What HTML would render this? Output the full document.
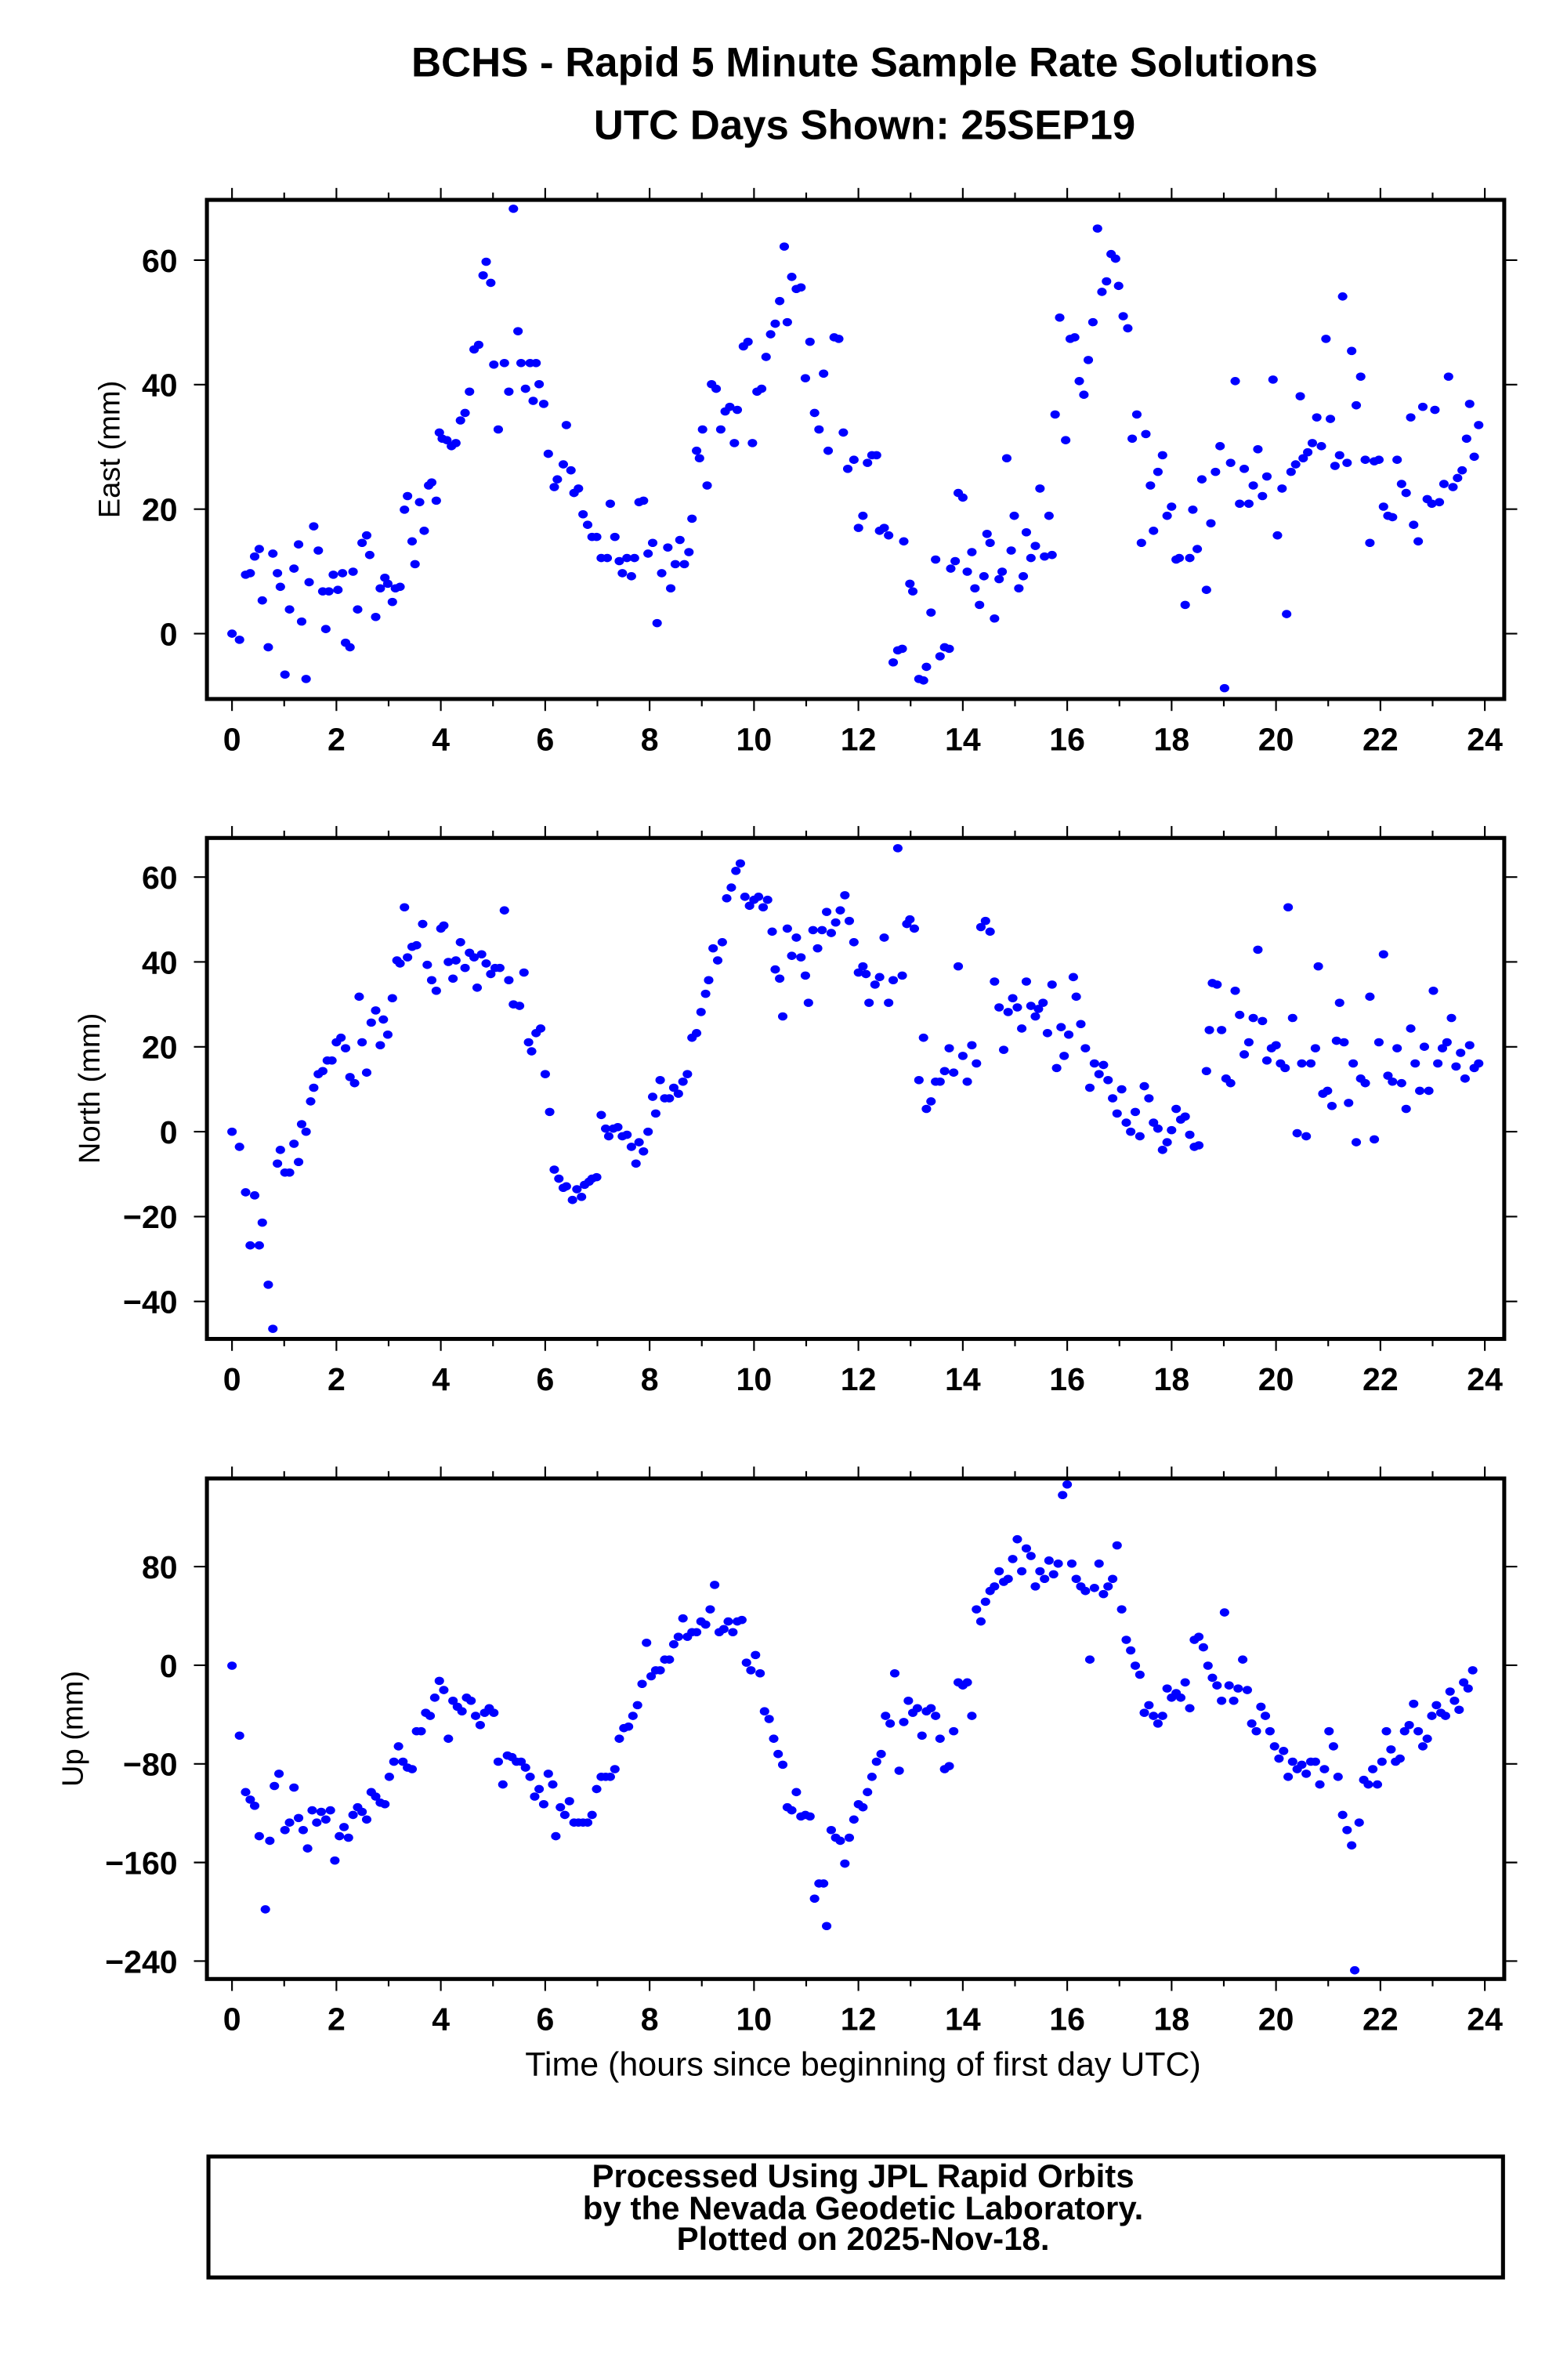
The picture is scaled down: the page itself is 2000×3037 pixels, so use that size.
<!DOCTYPE html>
<html><head><meta charset="utf-8"><style>
html,body{margin:0;padding:0;background:#fff;}
svg{display:block;}
text{font-family:"Liberation Sans",Arial,sans-serif;fill:#000;}
.b{font-weight:bold;}
</style></head><body>
<svg id="s" width="2000" height="3037" viewBox="0 0 1024 1555" xmlns="http://www.w3.org/2000/svg">
<rect width="1024" height="1555" fill="#fff"/>
<text class="b" x="565" y="50" font-size="27" text-anchor="middle">BCHS - Rapid 5 Minute Sample Rate Solutions</text>
<text class="b" x="565" y="91" font-size="27" text-anchor="middle">UTC Days Shown:  25SEP19</text>
<g id="g"></g>
<text x="564" y="1356" font-size="22" text-anchor="middle">Time (hours since beginning of first day UTC)</text>
<rect x="136.2" y="1409" width="846" height="79" fill="none" stroke="#000" stroke-width="2.6"/>
<text class="b" x="564" y="1429" font-size="21.5" text-anchor="middle">Processed Using JPL Rapid Orbits</text>
<text class="b" x="564" y="1450" font-size="21.5" text-anchor="middle">by the Nevada Geodetic Laboratory.</text>
<text class="b" x="564" y="1470" font-size="21.5" text-anchor="middle">Plotted on 2025-Nov-18.</text>
</svg>
<script>
var E=[152,418,157,422,161,379,164,378,167,367,170,362,172,396,176,427,179,365,182,378,184,387,187,445,190,402,193,375,196,359,198,410,201,448,203,384,206,347,209,363,212,390,214,415,216,390,219,379,222,389,225,378,227,424,230,427,232,377,235,402,238,358,241,353,243,366,247,407,250,388,253,381,255,385,258,397,260,388,263,387,266,336,268,327,271,357,273,372,276,331,279,350,282,320,284,318,287,330,289,285,291,289,294,290,297,294,300,292,303,277,306,272,309,258,312,230,315,227,318,181,320,172,323,186,325,240,328,283,332,239,335,258,338,137,341,218,343,239,346,256,349,239,351,264,353,239,355,253,358,266,361,299,365,321,367,316,371,306,373,280,376,310,378,325,381,322,384,339,387,346,390,354,393,354,396,368,400,368,402,332,405,354,408,370,410,378,413,368,416,380,418,368,421,331,424,330,427,365,430,358,433,411,436,378,440,361,442,388,445,372,448,356,451,372,454,364,456,342,459,297,461,302,463,283,466,320,469,253,472,256,475,283,478,271,481,268,484,292,486,270,490,228,493,225,496,292,499,258,502,256,505,235,508,220,511,213,514,198,517,162,519,212,522,182,525,190,528,189,531,249,534,225,537,272,540,283,543,246,546,297,550,222,553,223,556,285,559,309,563,303,566,348,569,340,572,305,575,300,578,300,580,350,583,348,586,353,589,437,592,429,595,428,596,357,600,385,602,390,606,448,609,449,611,440,614,404,617,369,620,433,623,427,626,428,627,375,630,370,632,325,635,328,638,377,641,364,643,388,646,399,649,380,651,352,653,358,656,408,659,382,661,377,664,302,667,363,669,340,672,388,675,380,677,351,680,368,683,360,686,322,689,367,692,340,694,366,696,273,699,209,703,290,706,223,709,222,712,251,715,260,718,237,721,212,724,150,727,192,730,185,733,167,736,170,738,188,741,208,744,216,747,289,750,273,753,358,756,286,759,320,761,350,764,311,767,300,770,340,773,334,776,369,778,368,782,399,785,368,787,336,790,362,793,316,796,389,799,345,802,311,805,294,808,454,812,305,815,251,818,332,821,309,824,332,827,320,830,296,833,327,836,314,840,250,843,353,846,322,849,405,852,311,855,306,858,261,860,302,863,298,866,292,869,275,872,294,875,223,878,276,881,307,884,300,886,195,889,305,892,231,895,267,898,248,901,303,904,358,907,304,910,303,913,334,916,340,919,341,922,303,925,319,928,325,931,275,933,346,936,357,939,268,942,329,945,332,947,270,950,331,953,319,956,248,959,321,962,315,965,310,968,289,970,266,973,301,976,280];
var N=[152,745,157,755,161,785,164,820,167,787,170,820,172,805,176,846,179,875,182,766,184,757,187,772,190,772,193,753,196,765,198,740,201,745,204,725,206,716,209,707,212,705,215,698,218,698,221,686,224,683,227,690,230,709,233,713,236,656,238,686,241,706,244,673,247,665,250,688,252,671,255,681,258,657,261,632,263,634,266,597,268,630,271,623,274,622,278,608,281,635,284,645,287,652,290,611,292,609,295,633,298,644,300,632,303,620,306,637,309,627,312,630,314,650,317,628,320,634,323,641,326,637,329,637,332,599,335,645,338,661,342,662,345,640,348,686,350,692,353,680,356,677,359,707,362,732,365,770,368,776,371,782,373,781,377,790,380,783,383,788,385,780,388,778,390,776,393,775,396,734,399,743,401,748,404,743,407,742,410,748,413,747,416,755,419,766,421,752,424,758,427,745,430,722,432,733,435,711,438,723,441,723,444,716,447,720,450,712,453,707,456,683,459,680,462,666,465,654,467,645,470,624,473,632,476,620,479,591,482,584,485,573,488,568,491,590,494,596,497,592,500,590,503,597,506,592,509,613,511,638,514,644,516,669,519,611,522,629,525,617,528,630,531,642,533,660,536,612,539,624,542,612,545,600,548,614,551,607,554,599,557,589,560,606,563,620,566,640,569,636,571,641,573,660,577,648,580,643,583,617,586,660,589,645,592,558,595,642,598,608,600,605,603,611,606,711,609,683,611,730,614,725,617,712,620,712,623,705,626,690,629,706,632,636,635,695,638,712,641,688,644,700,647,610,650,606,653,613,656,646,659,663,662,691,665,666,668,657,671,663,674,677,677,646,680,662,683,669,685,664,688,660,691,680,694,648,697,703,700,676,702,695,705,681,708,643,710,656,713,674,716,690,719,716,722,700,725,707,728,701,731,711,734,723,737,733,740,717,743,739,746,745,749,732,752,748,755,715,758,723,761,739,764,743,767,757,770,752,773,744,776,730,779,737,782,735,785,747,788,755,791,754,796,705,798,678,800,647,803,648,806,678,809,710,812,713,815,652,818,668,821,694,824,686,827,670,830,625,833,672,836,698,839,690,842,688,845,700,848,703,850,597,853,670,856,746,859,700,862,748,865,700,868,690,870,636,873,720,876,718,879,728,882,685,884,660,887,686,890,726,893,700,895,752,898,710,901,713,904,656,907,750,910,686,913,628,916,708,919,712,922,690,925,713,928,730,931,677,934,700,937,718,940,689,943,718,946,652,949,700,952,690,955,686,958,670,961,702,964,693,967,710,970,688,973,703,976,700];
var U=[152,1097,157,1143,161,1180,164,1185,167,1189,170,1209,174,1257,177,1212,180,1176,183,1168,187,1205,190,1200,193,1177,196,1197,199,1205,202,1217,205,1192,208,1200,211,1193,214,1198,217,1192,220,1225,223,1209,226,1203,229,1210,232,1195,235,1190,238,1193,241,1198,244,1180,247,1183,250,1187,253,1188,256,1170,259,1160,262,1150,265,1160,268,1164,271,1165,274,1140,277,1140,280,1128,283,1130,286,1118,289,1107,292,1113,295,1145,298,1120,301,1124,304,1127,307,1118,310,1120,313,1130,316,1136,319,1128,322,1125,325,1128,328,1160,331,1175,334,1156,337,1157,340,1160,343,1160,346,1164,349,1170,352,1183,355,1178,358,1188,361,1168,364,1175,366,1209,369,1190,372,1195,375,1186,378,1200,381,1200,384,1200,387,1200,390,1195,393,1178,396,1170,399,1170,402,1170,405,1165,408,1145,411,1138,414,1137,417,1130,420,1123,423,1109,426,1082,429,1104,432,1100,435,1100,438,1093,441,1093,444,1083,447,1078,450,1066,453,1078,456,1075,459,1075,462,1068,465,1070,468,1060,471,1044,474,1075,477,1073,480,1068,483,1075,486,1068,489,1067,492,1095,495,1100,498,1090,501,1102,504,1127,507,1132,510,1145,513,1155,516,1162,519,1190,522,1192,525,1180,528,1196,531,1195,534,1196,537,1250,540,1240,543,1240,545,1268,548,1205,551,1210,554,1212,557,1227,560,1210,563,1198,566,1188,569,1190,572,1180,575,1170,578,1160,581,1155,584,1130,587,1135,590,1102,593,1166,596,1134,599,1120,602,1128,605,1125,608,1143,611,1127,614,1125,617,1130,620,1145,623,1165,626,1163,629,1140,632,1108,635,1110,638,1108,641,1130,644,1060,647,1068,650,1055,653,1048,656,1045,659,1035,662,1042,665,1040,668,1027,671,1014,674,1035,677,1020,680,1025,683,1045,686,1035,689,1040,692,1028,695,1037,698,1030,701,985,704,978,707,1030,710,1040,713,1045,716,1048,719,1093,722,1046,725,1030,728,1050,731,1045,734,1040,737,1018,740,1060,743,1080,746,1087,749,1097,752,1103,755,1128,758,1123,761,1130,764,1135,767,1130,770,1112,773,1118,776,1115,779,1118,782,1108,785,1125,788,1080,791,1078,794,1085,797,1097,800,1105,803,1110,806,1120,808,1062,811,1110,814,1120,817,1112,820,1093,823,1113,826,1135,829,1140,832,1124,835,1130,838,1140,841,1150,844,1158,847,1153,850,1170,853,1160,856,1165,859,1162,862,1168,865,1160,868,1160,871,1175,874,1165,877,1140,880,1150,883,1170,886,1195,889,1205,892,1215,894,1297,897,1200,900,1172,903,1175,906,1165,909,1175,912,1160,915,1140,918,1152,921,1160,924,1158,927,1140,930,1136,933,1122,936,1140,939,1150,942,1145,945,1130,948,1123,951,1128,954,1130,957,1114,960,1120,963,1126,966,1108,969,1112,972,1100];
var G=document.getElementById('g'),h='';
var L=135.2,R=983,X0=151.6,PX=34.113;
function fx(x){return 151.6+(x-152)*0.98877;}
var panels=[
 {t:130.6,b:456.7,data:E,my:function(y){return 170+(y-171)*0.9879;},v0:414,pv:4.067,ticks:[0,20,40,60],lab:"East (mm)",lx:78},
 {t:547.5,b:874.8,data:N,my:function(y){return 573+(y-577)*0.9905;},v0:739.4,pv:2.773,ticks:[-40,-20,0,20,40,60],lab:"North (mm)",lx:65},
 {t:966,b:1293,data:U,my:function(y){return 1023.6+(y-1032)*0.995;},v0:1088,pv:0.8055,ticks:[-240,-160,-80,0,80],lab:"Up (mm)",lx:54}
];
panels.forEach(function(p){
 var d=p.data;
 for(var i=0;i<d.length;i+=2){h+='<ellipse cx="'+fx(d[i]).toFixed(1)+'" cy="'+p.my(d[i+1]).toFixed(1)+'" rx="3.1" ry="2.7" fill="#0000ff"/>';}
 for(var k=0;k<=24;k++){var x=X0+k*PX,len=(k%2==0)?7.8:4.8;
  h+='<line x1="'+x+'" y1="'+(p.t-len)+'" x2="'+x+'" y2="'+p.t+'" stroke="#000" stroke-width="1.1"/>';
  h+='<line x1="'+x+'" y1="'+p.b+'" x2="'+x+'" y2="'+(p.b+len)+'" stroke="#000" stroke-width="1.1"/>';
  if(k%2==0)h+='<text class="b" x="'+x+'" y="'+(p.b+33.5)+'" font-size="21" text-anchor="middle">'+k+'</text>';}
 p.ticks.forEach(function(v){var y=p.v0-v*p.pv;
  h+='<line x1="'+(L-8.5)+'" y1="'+y+'" x2="'+L+'" y2="'+y+'" stroke="#000" stroke-width="1.1"/>';
  h+='<line x1="'+R+'" y1="'+y+'" x2="'+(R+8.5)+'" y2="'+y+'" stroke="#000" stroke-width="1.1"/>';
  h+='<text class="b" x="116" y="'+(y+7.6)+'" font-size="21" text-anchor="end">'+(v<0?'\u2212'+(-v):v)+'</text>';});
 var cy=(p.t+p.b)/2;
 h+='<text x="'+p.lx+'" y="'+cy+'" font-size="19.5" text-anchor="middle" transform="rotate(-90 '+p.lx+' '+cy+')">'+p.lab+'</text>';
 h+='<rect x="'+L+'" y="'+p.t+'" width="'+(R-L)+'" height="'+(p.b-p.t)+'" fill="none" stroke="#000" stroke-width="2.6"/>';
});
G.innerHTML=h;
</script>
</body></html>
